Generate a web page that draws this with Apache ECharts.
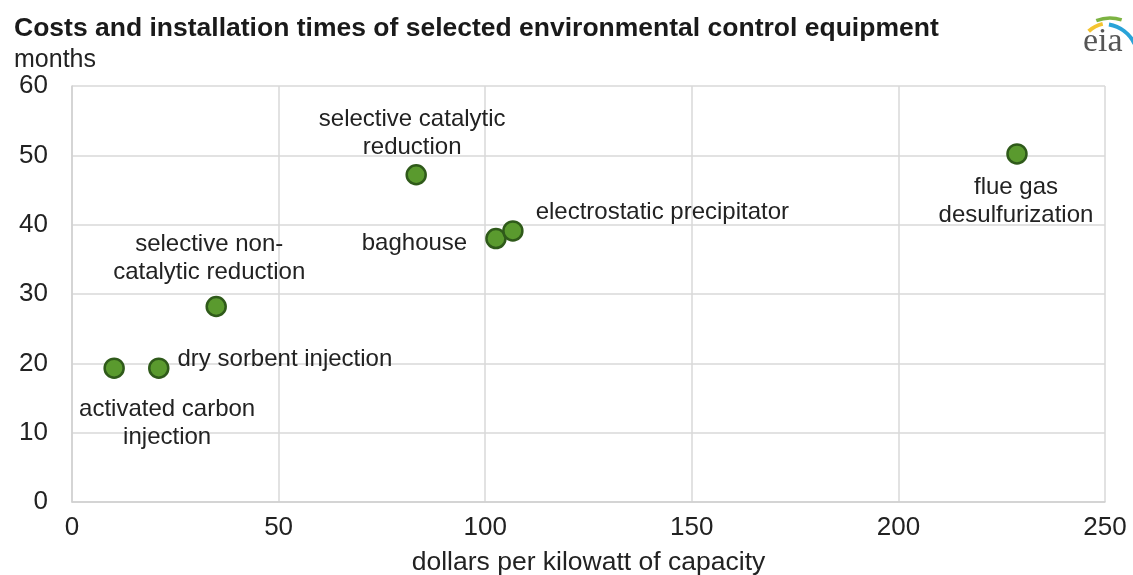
<!DOCTYPE html>
<html>
<head>
<meta charset="utf-8">
<script src="https://cdn.jsdelivr.net/npm/echarts@6/dist/echarts.min.js"></script>
<style>html,body{margin:0;padding:0;background:#fff;}#c{width:1133px;height:575px;}</style>
</head>
<body>
<div id="c"></div>
<script>
var names = ['activated carbon\ninjection', 'dry sorbent injection', 'selective non-\ncatalytic reduction', 'selective catalytic\nreduction', 'baghouse', 'electrostatic precipitator', 'flue gas\ndesulfurization'];
var costs = [10.2, 21, 34.9, 83.3, 102.6, 106.7, 228.7];
var months = [19.3, 19.3, 28.2, 47.2, 38, 39.1, 50.2];
var xTicks = [0, 50, 100, 150, 200, 250];
var yTicks = [0, 10, 20, 30, 40, 50, 60];

// label placement styles (per point, by index)
var labelStyles = [
  {position: 'bottom', distance: 16, offset: [53, 0], align: 'center'},
  {position: 'right', distance: 8, offset: [0, -9], align: 'left'},
  {position: 'top', distance: 9, offset: [-7, 0], align: 'center'},
  {position: 'top', distance: 3, offset: [-4, 0], align: 'center'},
  {position: 'left', distance: 18, offset: [0, 5], align: 'right'},
  {position: 'right', distance: 12, offset: [0, -19], align: 'left'},
  {position: 'bottom', distance: 9, offset: [-1, 0], align: 'center'}
];

var data = names.map(function (n, i) {
  var s = labelStyles[i];
  return {
    name: n,
    value: [costs[i], months[i]],
    label: {show: true, formatter: n, position: s.position, distance: s.distance, offset: s.offset, align: s.align}
  };
});

var chart = echarts.init(document.getElementById('c'));
var font = '"Liberation Sans", Arial, sans-serif';
chart.setOption({
  animation: false,
  backgroundColor: '#fff',
  textStyle: {fontFamily: font},
  title: [
    {text: 'Costs and installation times of selected environmental control equipment', left: 9, top: 10,
     textStyle: {fontFamily: font, fontSize: 26.5, fontWeight: 'bold', color: '#1a1a1a'}},
    {text: 'months', left: 9, top: 43, textStyle: {fontFamily: font, fontSize: 25, fontWeight: 'normal', color: '#222'}}
  ],
  grid: {left: 72, right: 28, top: 86, bottom: 73, containLabel: false, outerBoundsMode: 'none'},
  xAxis: {
    type: 'value', min: xTicks[0], max: xTicks[xTicks.length - 1], interval: 50,
    name: 'dollars per kilowatt of capacity', nameLocation: 'middle', nameGap: 47,
    nameTextStyle: {fontFamily: font, fontSize: 26.5, color: '#222'},
    axisLine: {show: true, lineStyle: {color: '#d0d0d0', width: 1.5}},
    axisTick: {show: false},
    axisLabel: {fontFamily: font, fontSize: 26, color: '#222', margin: 13},
    splitLine: {show: true, lineStyle: {color: '#d9d9d9', width: 1.5}}
  },
  yAxis: {
    type: 'value', min: yTicks[0], max: yTicks[yTicks.length - 1], interval: 10,
    axisLine: {show: true, lineStyle: {color: '#d0d0d0', width: 1.5}},
    axisTick: {show: false},
    axisLabel: {fontFamily: font, fontSize: 26, color: '#222', margin: 24},
    splitLine: {show: true, lineStyle: {color: '#d9d9d9', width: 1.5}}
  },
  series: [{
    type: 'scatter',
    symbol: 'circle',
    symbolSize: 19,
    itemStyle: {color: '#5a9a2e', borderColor: '#2f5a1a', borderWidth: 2.5, opacity: 1},
    label: {fontFamily: font, fontSize: 24, color: '#222', lineHeight: 28},
    emphasis: {disabled: true},
    data: data,
    z: 5
  }],
  graphic: [
    {type: 'arc', shape: {cx: 1110, cy: 55, r: 32, startAngle: -2.3, endAngle: -1.8}, style: {fill: 'none', stroke: '#f4c430', lineWidth: 4}, z: 10},
    {type: 'arc', shape: {cx: 1110, cy: 55, r: 37, startAngle: -1.95, endAngle: -1.25}, style: {fill: 'none', stroke: '#7cb342', lineWidth: 3.5}, z: 10},
    {type: 'arc', shape: {cx: 1103, cy: 59, r: 35, startAngle: -1.4, endAngle: -0.45}, style: {fill: 'none', stroke: '#29a3d8', lineWidth: 4}, z: 10},
    {type: 'text', left: 1083, top: 25, style: {text: 'eia', fontFamily: '"Liberation Serif", "DejaVu Serif", serif', fontSize: 34, fill: '#555'}, z: 11}
  ]
});
</script>
</body>
</html>
